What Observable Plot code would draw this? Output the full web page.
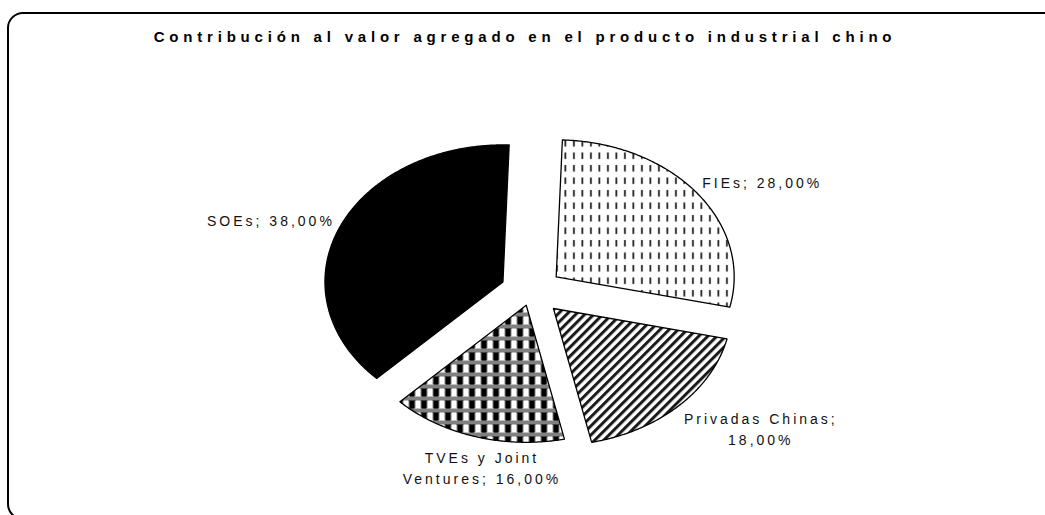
<!DOCTYPE html>
<html><head><meta charset="utf-8">
<script src="https://cdn.jsdelivr.net/npm/d3@7"></script>
<script src="https://cdn.jsdelivr.net/npm/@observablehq/plot@0.6"></script>
<style>
body{margin:0;background:#fff;}
#wrap{position:relative;width:1045px;height:515px;overflow:hidden;background:#fff;}
#frame{position:absolute;left:7px;top:12px;width:1070px;height:508px;border:2px solid #000;border-radius:16px;box-sizing:border-box;}
#title{position:absolute;left:0;top:28px;width:1050px;text-align:center;font:bold 15px "Liberation Sans",Arial,sans-serif;letter-spacing:4.8px;color:#000;}
#chart{position:absolute;left:0;top:0;}
</style></head><body>
<div id="wrap"><div id="frame"></div><div id="chart"></div><div id="title">Contribución al valor agregado en el producto industrial chino</div></div>
<script>
// Data (clockwise from the top)
const categories = ["FIEs", "Privadas Chinas", "TVEs y Joint Ventures", "SOEs"];
const shares = [28, 18, 16, 38];
const labelTexts = ["FIEs; 28,00%", "Privadas Chinas;\n18,00%", "TVEs y Joint\nVentures; 16,00%", "SOEs; 38,00%"];
const fills = ["url(#pFIE)", "url(#pPriv)", "url(#pTVE)", "#000000"];
const explodes = [0.175, 0.175, 0.105, 0.175];   // fraction of radius, per slice
const firstSliceAngle = 2;   // degrees

const W = 1045, H = 515, ml = 353, mr = 336, mt = 154, mb = 87;
const rx = (W - ml - mr) / 2, ry = (H - mt - mb) / 2;
const fs = 14, ls = 3, lh = 1.5;

const data = categories.map((c, i) => ({name: c, share: shares[i], label: labelTexts[i], explode: explodes[i]}));
const a0 = firstSliceAngle * Math.PI / 180;
const arcs = d3.pie().sort(null).value(d => d.share).startAngle(a0).endAngle(a0 + 2 * Math.PI)(data);

const pts = [];
arcs.forEach(a => {
  const mid = (a.startAngle + a.endAngle) / 2;
  const e = a.data.explode;
  const ox = e * Math.sin(mid), oy = e * Math.cos(mid);
  pts.push({name: a.data.name, x: ox, y: oy});
  const n = Math.max(2, Math.ceil((a.endAngle - a.startAngle) / (Math.PI / 360)));
  for (let k = 0; k <= n; k++) {
    const t = a.startAngle + (a.endAngle - a.startAngle) * k / n;
    pts.push({name: a.data.name, x: ox + Math.sin(t), y: oy + Math.cos(t)});
  }
});

const ctx = document.createElement("canvas").getContext("2d");
ctx.font = `${fs}px "Liberation Sans", Arial, sans-serif`;
const labels = arcs.map(a => {
  const mid = (a.startAngle + a.endAngle) / 2;
  const s = Math.sin(mid), c = Math.cos(mid);
  const lines = a.data.label.split("\n");
  const w = Math.max(...lines.map(l => ctx.measureText(l).width + ls * l.length));
  const h = lines.length * fs * lh;
  const r = 1 + a.data.explode;
  const side = Math.abs(s) > 0.5;
  const px = r * s * rx + (side ? Math.sign(s) * (w / 2 + 5) : 6);
  const py = r * c * ry + c * (h / 2 + 10);
  return {text: a.data.label, x: px / rx, y: py / ry};
});

const chart = Plot.plot({
  width: W, height: H,
  marginLeft: ml, marginRight: mr, marginTop: mt, marginBottom: mb,
  x: {domain: [-1, 1], axis: null},
  y: {domain: [-1, 1], axis: null},
  color: {domain: categories, range: fills},
  style: {fontFamily: '"Liberation Sans", Arial, sans-serif', background: "transparent", overflow: "visible"},
  marks: [
    Plot.line(pts, {x: "x", y: "y", z: "name", fill: "name", stroke: "#000", strokeWidth: 1.3, curve: "linear-closed"}),
    Plot.text(labels, {x: "x", y: "y", text: "text", fontSize: fs, lineHeight: lh, fill: "#111"})
  ]
});

d3.select(chart).insert("defs", ":first-child").html(`
  <pattern id="dither" width="2" height="2" patternUnits="userSpaceOnUse">
    <rect width="2" height="2" fill="#fff"/>
    <rect x="0" y="0" width="1" height="1" fill="#000"/>
    <rect x="1" y="1" width="1" height="1" fill="#000"/>
  </pattern>
  <pattern id="pFIE" width="8.5" height="12.5" patternUnits="userSpaceOnUse">
    <rect width="8.5" height="12.5" fill="#fff"/>
    <rect x="3" y="2" width="1.8" height="6.5" fill="#222"/>
  </pattern>
  <pattern id="pPriv" width="6.4" height="6.4" patternUnits="userSpaceOnUse" patternTransform="rotate(45)">
    <rect width="6.4" height="6.4" fill="#fff"/>
    <rect x="0" y="0" width="3" height="6.4" fill="#1a1a1a"/>
  </pattern>
  <pattern id="pTVE" width="12" height="12" patternUnits="userSpaceOnUse">
    <rect width="12" height="12" fill="#fff"/>
    <rect x="0" y="0" width="12" height="4" fill="url(#dither)"/>
    <rect x="0" y="4" width="1" height="8" fill="url(#dither)"/>
    <rect x="1" y="4" width="5" height="8" fill="#000"/>
    <rect x="6" y="4" width="1" height="8" fill="url(#dither)"/>
  </pattern>
`);
d3.select(chart).selectAll("text").attr("letter-spacing", ls);

document.getElementById("chart").appendChild(chart);
</script>
</body></html>
